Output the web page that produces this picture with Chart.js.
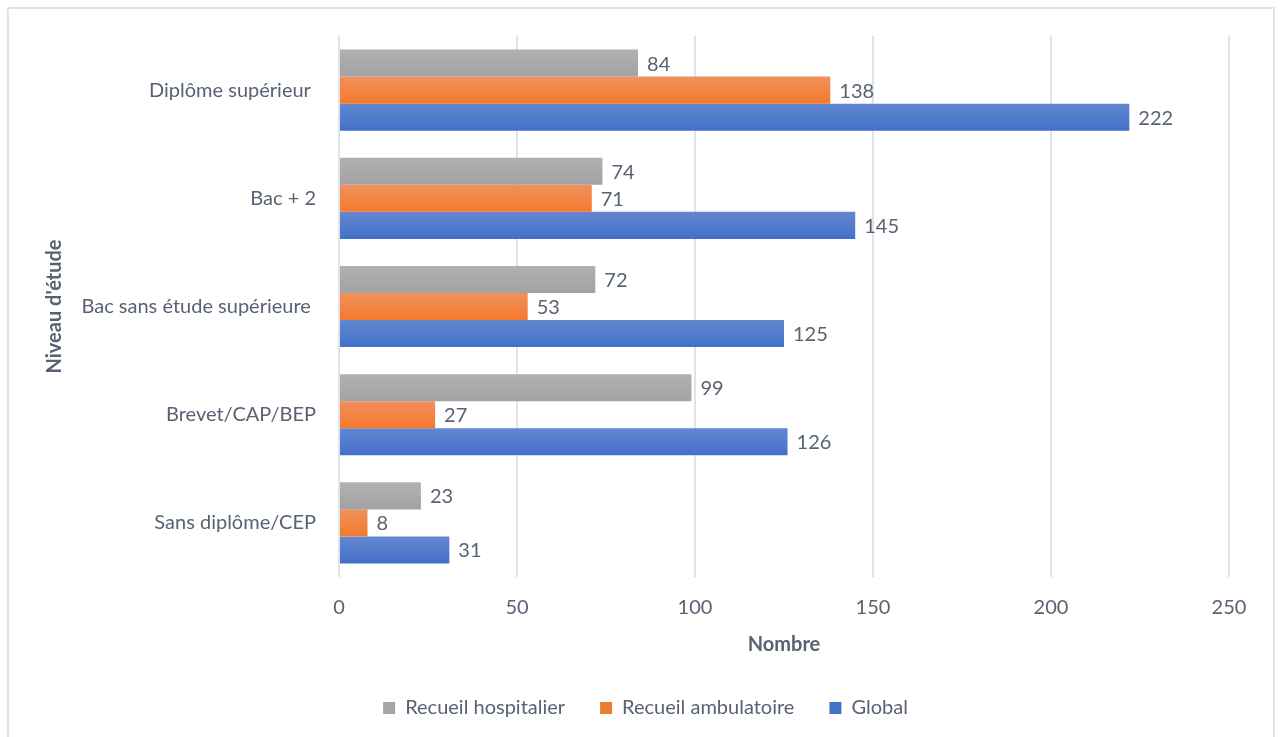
<!DOCTYPE html>
<html lang="fr">
<head>
    <meta charset="UTF-8">
    <title>Niveau d'étude</title>
    <style>
        body {
            margin: 0;
            background: #ffffff;
            overflow: hidden;
        }
        .chart-wrap {
            position: relative;
            width: 1280px;
            height: 737px;
        }
    </style>
</head>
<body>
    <div class="chart-wrap">
        <canvas id="barChart"></canvas>
    </div>

    <script src="https://cdn.jsdelivr.net/npm/chart.js"></script>
    <script>
        // Data
        const categories = ['Diplôme supérieur ', 'Bac + 2', 'Bac sans étude supérieure ', 'Brevet/CAP/BEP', 'Sans diplôme/CEP'];
        const hospitalier = [84, 74, 72, 99, 23];
        const ambulatoire = [138, 71, 53, 27, 8];
        const globalVals = [222, 145, 125, 126, 31];
        const xTicks = [0, 50, 100, 150, 200, 250];

        const textColor = '#586272';
        const fontName = 'Lato, "Open Sans", sans-serif';

        // top / bottom colours of each bar gradient
        const shades = [
            ['#b1b1b1', '#a2a2a2'],
            ['#f0915c', '#f4792d'],
            ['#6387d0', '#4270c8']
        ];

        // frame around the chart
        const framePlugin = {
            id: 'frame',
            beforeDraw(chart) {
                const ctx = chart.ctx;
                ctx.save();
                ctx.strokeStyle = '#dfe3ea';
                ctx.lineWidth = 2;
                ctx.strokeRect(8, 8, 1266, 780);
                ctx.restore();
            }
        };

        // legend is centred on the whole picture, not between the paddings
        const legendShift = {
            id: 'legendShift',
            afterLayout(chart) {
                chart.legend.left += 21;
                chart.legend.right += 21;
            }
        };

        // vertical gradient on each bar (own options object per bar, shared ones would be overwritten)
        const gradientPlugin = {
            id: 'barGradient',
            beforeDatasetsDraw(chart) {
                const ctx = chart.ctx;
                chart.data.datasets.forEach((ds, i) => {
                    chart.getDatasetMeta(i).data.forEach(bar => {
                        const top = bar.y - bar.height / 2;
                        const g = ctx.createLinearGradient(0, top, 0, top + bar.height);
                        g.addColorStop(0, shades[i][0]);
                        g.addColorStop(1, shades[i][1]);
                        bar.options = Object.assign({}, bar.options, { backgroundColor: g });
                    });
                });
            }
        };

        // value labels at the end of each bar
        const valueLabels = {
            id: 'valueLabels',
            afterDatasetsDraw(chart) {
                const ctx = chart.ctx;
                ctx.save();
                ctx.font = '20px ' + fontName;
                ctx.fillStyle = textColor;
                ctx.textAlign = 'left';
                ctx.textBaseline = 'middle';
                chart.data.datasets.forEach((ds, i) => {
                    chart.getDatasetMeta(i).data.forEach((bar, j) => {
                        ctx.fillText(ds.data[j], bar.x + 9, bar.y + 1);
                    });
                });
                ctx.restore();
            }
        };

        const barChart = new Chart(document.getElementById('barChart'), {
            type: 'bar',
            data: {
                labels: categories,
                datasets: [
                    { label: 'Recueil hospitalier', data: hospitalier, backgroundColor: '#a5a5a5' },
                    { label: 'Recueil ambulatoire', data: ambulatoire, backgroundColor: '#ed7d31' },
                    { label: 'Global', data: globalVals, backgroundColor: '#4472c4' }
                ]
            },
            options: {
                indexAxis: 'y',
                responsive: true,
                maintainAspectRatio: false,
                animation: false,
                datasets: {
                    bar: { categoryPercentage: 0.75, barPercentage: 1.0 }
                },
                layout: {
                    padding: { left: 20, right: 51, top: 36, bottom: 9 }
                },
                plugins: {
                    legend: {
                        position: 'bottom',
                        labels: {
                            color: textColor,
                            font: { family: fontName, size: 20 },
                            boxWidth: 12,
                            boxHeight: 12,
                            padding: 35
                        }
                    },
                    tooltip: { enabled: false }
                },
                scales: {
                    x: {
                        min: 0,
                        max: 250,
                        afterBuildTicks: scale => {
                            scale.ticks = xTicks.map(v => ({ value: v }));
                        },
                        afterFit: scale => { scale.height = 86; },
                        grid: { color: '#dfe3ea', lineWidth: 2, drawTicks: false },
                        border: { display: false },
                        ticks: {
                            color: textColor,
                            font: { family: fontName, size: 20 },
                            padding: 19
                        },
                        title: {
                            display: true,
                            text: 'Nombre',
                            color: textColor,
                            font: { family: fontName, size: 20, weight: 'bold' },
                            padding: { top: 0, bottom: 6 }
                        }
                    },
                    y: {
                        afterFit: scale => { scale.width = 319; },
                        grid: { display: false },
                        border: { display: false },
                        ticks: {
                            color: textColor,
                            font: { family: fontName, size: 20 },
                            padding: 15
                        },
                        title: {
                            display: true,
                            text: "Niveau d'étude",
                            color: textColor,
                            font: { family: fontName, size: 20, weight: 'bold' },
                            padding: { top: 23, bottom: 0 }
                        }
                    }
                }
            },
            plugins: [framePlugin, legendShift, gradientPlugin, valueLabels]
        });
    </script>
</body>
</html>
